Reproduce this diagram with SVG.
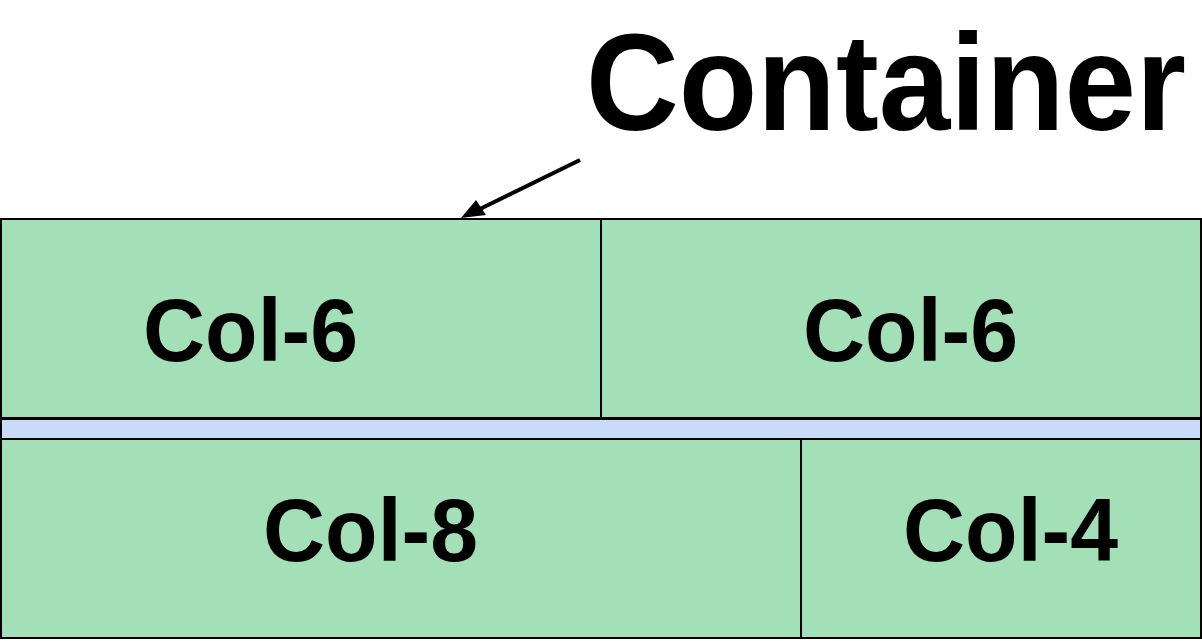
<svg xmlns="http://www.w3.org/2000/svg" width="1202" height="641" viewBox="0 0 1202 641">
<style>
.cell{fill:#a3e0b7;stroke:#000;stroke-width:2}
.strip{fill:#c9dcf7;stroke:#000;stroke-width:2}
.lbl{font-family:"Liberation Sans",Arial,sans-serif;font-weight:bold;font-size:89px;fill:#000}
.title{font-family:"Liberation Sans",Arial,sans-serif;font-weight:bold;font-size:138px;fill:#000}
</style>
<rect width="1202" height="641" fill="#fff"/>
<g id="strip"><rect class="strip" x="1" y="419" width="1200" height="20"/></g>
<g id="col6a"><rect class="cell" x="1" y="219" width="600" height="199"/><text class="lbl" x="143" y="361" textLength="215" lengthAdjust="spacingAndGlyphs">Col-6</text></g>
<g id="col6b"><rect class="cell" x="601" y="219" width="600" height="199"/><text class="lbl" x="803" y="361" textLength="215" lengthAdjust="spacingAndGlyphs">Col-6</text></g>
<g id="col8"><rect class="cell" x="1" y="439" width="800" height="199"/><text class="lbl" x="263" y="561" textLength="215" lengthAdjust="spacingAndGlyphs">Col-8</text></g>
<g id="col4"><rect class="cell" x="801" y="439" width="400" height="199"/><text class="lbl" x="903" y="561" textLength="215" lengthAdjust="spacingAndGlyphs">Col-4</text></g>
<g id="container-label"><text class="title" x="586" y="130" textLength="600" lengthAdjust="spacingAndGlyphs">Container</text></g>
<g id="connectors">
<line x1="580" y1="160" x2="480" y2="209" stroke="#000" stroke-width="4"/>
<path d="M461,218 L476,200 L486,215 Z" fill="#000"/>
</g>
</svg>
